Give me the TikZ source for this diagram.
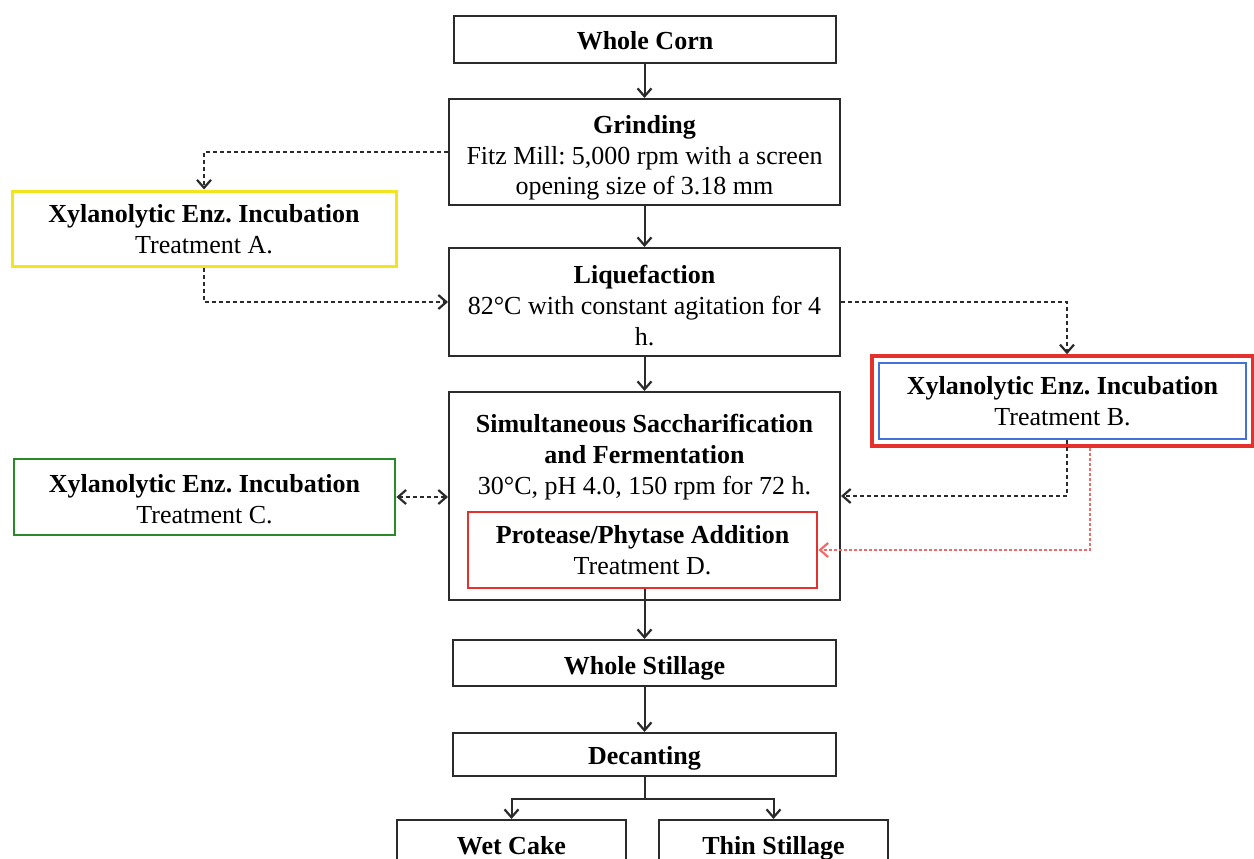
\documentclass[tikz,border=0pt]{standalone}
\usepackage{fontspec}
\setmainfont{Liberation Serif}
\usetikzlibrary{arrows.meta}
\frenchspacing
\definecolor{yel}{HTML}{F2E51E}
\definecolor{grn}{HTML}{2A8A2A}
\definecolor{redb}{HTML}{E4312B}
\definecolor{redl}{HTML}{F06A6A}
\definecolor{blu}{HTML}{4472D8}
\definecolor{ln}{HTML}{2B2B2B}
\newcommand\tb[2]{\raisebox{#1}[\height][\depth]{\begin{tabular}{@{}c@{}}#2\end{tabular}}}
\begin{document}
\begin{tikzpicture}[x=1pt,y=-1pt, font=\fontsize{26}{31}\selectfont,
  box/.style={draw=ln, line width=2pt, rectangle, inner sep=0pt, align=center, text=black},
  barb/.tip={Straight Barb[length=8pt,width=14pt,line width=2.2pt]},
  arr/.style={draw=ln, line width=2pt, -barb},
  dsh/.style={dash pattern=on 4pt off 3pt},
  dot/.style={dash pattern=on 3pt off 2pt}
]
\useasboundingbox (0,0) rectangle (1254,859);
\fill[white] (0,0) rectangle (1254,859);
\begin{scope}
\clip (0,0) rectangle (1254,859);
% main column
\node[box, minimum width=382pt, minimum height=47pt] (corn) at (645,39.5) {\tb{-4pt}{\textbf{Whole Corn}}};
\node[box, minimum width=391pt, minimum height=106pt] (grind) at (644.5,152) {\tb{-5.8pt}{\textbf{Grinding}\\Fitz Mill: 5,000 rpm with a screen\\opening size of 3.18 mm}};
\node[box, minimum width=391pt, minimum height=108pt] (liq) at (644.5,302) {\tb{-5.8pt}{\textbf{Liquefaction}\\82°C with constant agitation for 4\\h.}};
\node[box, minimum width=391pt, minimum height=208pt] (ssf) at (644.5,496) {};
\node[inner sep=0pt] (ssft) at (644.5,456.8) {\tb{0pt}{\textbf{Simultaneous Saccharification}\\\textbf{and Fermentation}\\30°C, pH 4.0, 150 rpm for 72 h.}};
\node[box, draw=redb, line width=2.8pt, minimum width=349pt, minimum height=76pt] (prot) at (642.5,550) {\tb{-2.5pt}{\textbf{Protease/Phytase Addition}\\Treatment D.}};
\node[box, minimum width=383pt, minimum height=46pt] (ws) at (644.5,663) {\tb{-5.5pt}{\textbf{Whole Stillage}}};
\node[box, minimum width=383pt, minimum height=43pt] (dec) at (644.5,754.5) {\tb{-4pt}{\textbf{Decanting}}};
\node[box, minimum width=229pt, minimum height=56pt, anchor=north] (wc) at (511.5,819) {\tb{0pt}{\textbf{Wet Cake}}};
\node[box, minimum width=229pt, minimum height=56pt, anchor=north] (ts) at (773.5,819) {\tb{0pt}{\textbf{Thin Stillage}}};
% side treatments
\node[box, draw=yel, line width=3pt, minimum width=384pt, minimum height=75pt] (xa) at (204,228.5) {\tb{-3pt}{\textbf{Xylanolytic Enz. Incubation}\\Treatment A.}};
\node[box, draw=grn, line width=2.8pt, minimum width=381pt, minimum height=76pt] (xc) at (204.5,497) {\tb{-5pt}{\textbf{Xylanolytic Enz. Incubation}\\Treatment C.}};
\node[box, draw=redb, line width=3.5pt, minimum width=381pt, minimum height=90pt] (xbo) at (1062.5,401) {};
\node[box, draw=blu, line width=2.4pt, minimum width=367pt, minimum height=76pt] (xb) at (1062.5,401) {\tb{-3pt}{\textbf{Xylanolytic Enz. Incubation}\\Treatment B.}};
% connectors
\draw[arr] (corn.south -| grind.north) -- (grind.north);
\draw[arr] (grind) -- (liq);
\draw[arr] (liq) -- (ssf);
\draw[arr] (prot.south -| ws.north) -- (ws.north);
\draw[arr] (ws) -- (dec);
\coordinate (split) at (644.5,799);
\draw[draw=ln, line width=2pt] (dec.south) -- (split);
\draw[arr] (split) -| (wc.north);
\draw[arr] (split) -| (ts.north);
\draw[arr, dsh] (grind.west) -| (xa.north);
\draw[arr, dsh] (xa.south) |- (liq.west);
\draw[arr, dsh] (liq.east) -| ([xshift=4.5pt]xbo.north);
\draw[arr, dsh] ([xshift=4.5pt]xb.south) |- (ssf.east);
\draw[draw=ln, line width=2pt, dsh, barb-barb] (xc.east) -- (xc.east -| ssf.west);
\draw[arr, draw=redl, dot] ([xshift=27.5pt]xbo.south) |- (prot.east);
\end{scope}
\end{tikzpicture}
\end{document}
